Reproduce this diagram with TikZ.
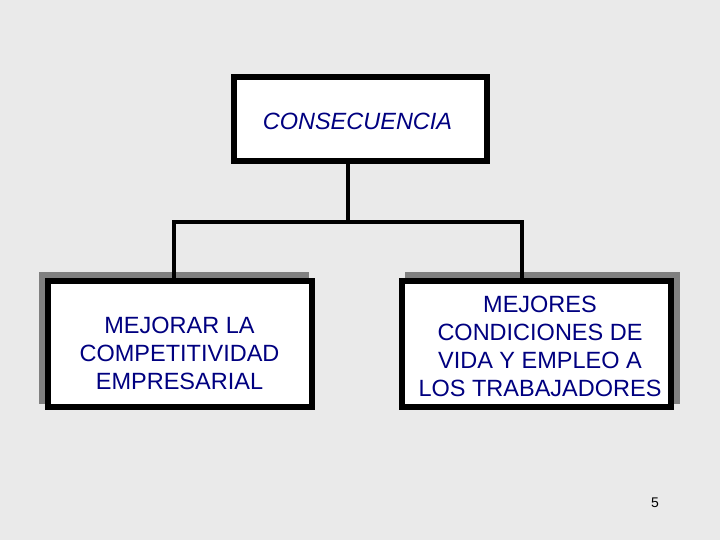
\documentclass[tikz,border=0pt]{standalone}
\usepackage{fontspec}
\setmainfont{Liberation Sans}
\usetikzlibrary{backgrounds}
\definecolor{slidebg}{RGB}{234,234,234}
\definecolor{shadowgray}{RGB}{128,128,128}
\definecolor{navytext}{RGB}{0,0,128}
\tikzset{
  box/.style={rectangle, draw=black, fill=white, line width=6bp, inner sep=0pt, outer sep=0pt},
  boxtext/.style={text=navytext, align=center, font=\fontsize{23.5bp}{28bp}\selectfont},
  titletext/.style={text=navytext, font=\fontsize{23.5bp}{28bp}\selectfont\itshape},
  conn/.style={draw=black, line width=4bp}
}
\begin{document}
\begin{tikzpicture}[x=1bp,y=1bp]
        \useasboundingbox (0,0) rectangle (720,540);

        \node[box, minimum width=253bp, minimum height=84bp] (cons) at (360.5,421) {};
        \node[box, minimum width=264bp, minimum height=126bp] (mejora) at (180,195.5) {};
        \node[box, minimum width=269bp, minimum height=126bp] (mejores) at (536.5,195.5) {};

        \node[titletext] (constxt) at (357.5,419) {CONSECUENCIA};
        \node[boxtext] (mejoratxt) at (179.5,187) {MEJORAR LA\\COMPETITIVIDAD\\EMPRESARIAL};
        \node[boxtext] (mejorestxt) at (540,193.5) {MEJORES\\CONDICIONES DE\\VIDA Y EMPLEO A\\LOS TRABAJADORES};

        \coordinate (split) at (348,318);
        \coordinate (leftdrop) at (174,318);
        \coordinate (rightdrop) at (522,318);
        \draw[conn] (split |- cons.south) -- (split);
        \draw[conn] (leftdrop |- mejora.north) -- (leftdrop) -- (rightdrop) -- (rightdrop |- mejores.north);

        \node[font=\fontsize{14bp}{16bp}\selectfont] (pagenum) at (655,37) {5};

        \begin{scope}[on background layer]
            \fill[slidebg] (0,0) rectangle (720,540);
            \fill[shadowgray] ([shift={(-9,9)}]mejora.north west) rectangle ([shift={(-3,3)}]mejora.south east);
            \fill[shadowgray] ([shift={(9,9)}]mejores.north east) rectangle ([shift={(3,3)}]mejores.south west);
        \end{scope}
\end{tikzpicture}
\end{document}
